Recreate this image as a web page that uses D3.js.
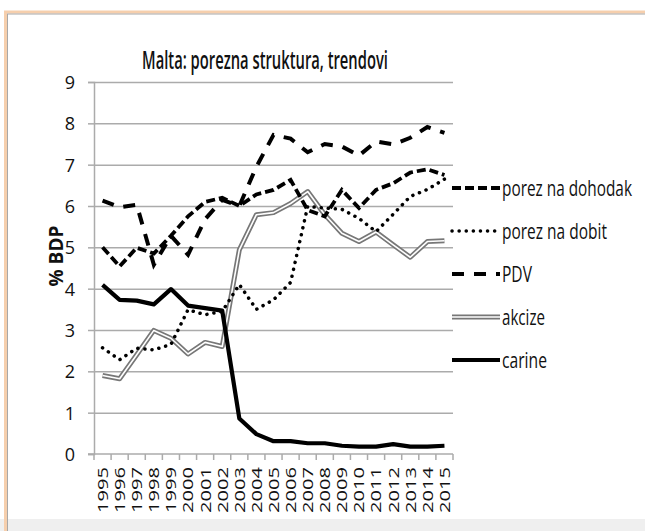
<!DOCTYPE html>
<html>
<head>
<meta charset="utf-8">
<script src="https://cdn.jsdelivr.net/npm/d3@7"></script>
<style>
  body { margin: 0; background: #fff; }
  svg { display: block; }
  text { font-family: "Open Sans", Lato, sans-serif; fill: #111; }
</style>
</head>
<body>
<svg id="chart"></svg>
<script>
// data
const years = ['1995','1996','1997','1998','1999','2000','2001','2002','2003','2004','2005',
  '2006','2007','2008','2009','2010','2011','2012','2013','2014','2015'];
const yTicks = [0, 1, 2, 3, 4, 5, 6, 7, 8, 9];

const dohodak = [5.0, 4.54, 4.99, 4.85, 5.28, 5.75, 6.1, 6.2, 6.0, 6.28, 6.39, 6.63, 5.9, 5.75, 6.39, 5.95, 6.39, 6.55, 6.81, 6.89, 6.75];
const dobit   = [2.57, 2.28, 2.56, 2.52, 2.65, 3.49, 3.37, 3.45, 4.1, 3.5, 3.73, 4.15, 5.99, 5.95, 5.92, 5.7, 5.38, 5.8, 6.23, 6.4, 6.65];
const pdv     = [6.13, 5.97, 6.03, 4.58, 5.28, 4.82, 5.68, 6.15, 6.0, 6.95, 7.72, 7.63, 7.3, 7.5, 7.44, 7.22, 7.56, 7.49, 7.65, 7.91, 7.77];
const akcize  = [1.9, 1.82, 2.4, 2.99, 2.8, 2.42, 2.7, 2.6, 4.94, 5.79, 5.84, 6.06, 6.35, 5.79, 5.34, 5.14, 5.37, 5.06, 4.76, 5.14, 5.16];
const carine  = [4.09, 3.73, 3.71, 3.62, 3.99, 3.59, 3.53, 3.47, 0.86, 0.48, 0.31, 0.31, 0.26, 0.26, 0.2, 0.18, 0.18, 0.24, 0.18, 0.18, 0.2];

const series = [
  { name: 'porez na dohodak', values: dohodak, kind: 'dohodak', textLen: 130 },
  { name: 'porez na dobit', values: dobit, kind: 'dobit', textLen: 105 },
  { name: 'PDV', values: pdv, kind: 'pdv', textLen: 30 },
  { name: 'akcize', values: akcize, kind: 'akcize', textLen: 43 },
  { name: 'carine', values: carine, kind: 'carine', textLen: 45 }
];

const width = 645, height = 531;
const svg = d3.select('#chart').attr('width', width).attr('height', height);

// squeeze a text horizontally (along its own direction) to a given length
function fit(sel, target, pre) {
  sel.each(function() {
    const w = this.getComputedTextLength();
    const s = w > 0 ? target / w : 1;
    d3.select(this).attr('transform', `${pre} scale(${s},1)`);
  });
}

// frame
svg.append('rect').attr('x', 0).attr('y', 519).attr('width', width).attr('height', 12).attr('fill', '#efefef');
svg.append('rect').attr('x', 5.5).attr('y', 12).attr('width', 700).attr('height', 600)
  .attr('fill', 'none').attr('stroke', '#f6cfad').attr('stroke-width', 3);
svg.append('rect').attr('x', 7.5).attr('y', 14).attr('width', 700).attr('height', 600)
  .attr('fill', 'none').attr('stroke', '#a8a8a8').attr('stroke-width', 1);

const x = d3.scaleBand().domain(years).range([94, 453]).padding(0);
const y = d3.scaleLinear().domain([0, 9]).range([454, 82]);
const cx = d => x(d) + x.bandwidth() / 2;

// gridlines
svg.append('g')
  .attr('transform', 'translate(94,0)')
  .call(d3.axisLeft(y).tickValues(yTicks).tickSize(-(453 - 94)).tickFormat(''))
  .call(g => g.select('.domain').remove())
  .call(g => g.selectAll('line').attr('stroke', '#ababab').attr('stroke-width', 1.5))
  .call(g => g.selectAll('.tick').filter(d => d === 0).remove());

// y axis
svg.append('g')
  .attr('transform', 'translate(94,0)')
  .call(d3.axisLeft(y).tickValues(yTicks).tickSize(6).tickPadding(12))
  .call(g => g.select('.domain').attr('stroke', '#ababab').attr('stroke-width', 1.5))
  .call(g => g.selectAll('line').attr('stroke', '#ababab').attr('stroke-width', 1.5))
  .call(g => g.selectAll('text').attr('font-size', 18).attr('fill', '#333')
    .attr('dy', '0.36em').attr('x', -19));

// x axis
const xg = svg.append('g');
xg.append('line').attr('x1', 88).attr('x2', 453).attr('y1', y(0)).attr('y2', y(0))
  .attr('stroke', '#ababab').attr('stroke-width', 1.5);
xg.selectAll('line.tk').data(years.concat(['end']))
  .enter().append('line')
  .attr('class', 'tk')
  .attr('x1', (d, i) => i < years.length ? x(d) : x(years[years.length - 1]) + x.bandwidth())
  .attr('x2', (d, i) => i < years.length ? x(d) : x(years[years.length - 1]) + x.bandwidth())
  .attr('y1', y(0)).attr('y2', y(0) + 6)
  .attr('stroke', '#ababab').attr('stroke-width', 1.5);
xg.selectAll('text').data(years)
  .enter().append('text')
  .attr('text-anchor', 'end')
  .attr('dy', '0.36em')
  .attr('font-size', 15)
  .attr('fill', '#222')
  .text(d => d)
  .each(function(d) { fit(d3.select(this), 46, `translate(${cx(d)},467) rotate(-90)`); });

// y title
fit(svg.append('text')
  .attr('text-anchor', 'middle')
  .attr('font-size', 19)
  .attr('font-weight', 'bold')
  .text('% BDP'), 61, 'translate(63,256) rotate(-90)');

// title
fit(svg.append('text')
  .attr('text-anchor', 'middle')
  .attr('font-size', 25)
  .attr('font-weight', 600)
  .attr('fill', '#000')
  .text('Malta: porezna struktura, trendovi'), 246, 'translate(265,69)');

const line = d3.line().x((d, i) => cx(years[i])).y(d => y(d));

function styleLine(sel, kind) {
  if (kind === 'dohodak') sel.attr('stroke', '#000').attr('stroke-width', 3.8).attr('stroke-dasharray', '9,4');
  if (kind === 'pdv') sel.attr('stroke', '#000').attr('stroke-width', 4).attr('stroke-dasharray', '12,10');
  if (kind === 'dobit') sel.attr('stroke', '#000').attr('stroke-width', 3.5).attr('stroke-dasharray', '0.1,7').attr('stroke-linecap', 'round');
  if (kind === 'carine') sel.attr('stroke', '#000').attr('stroke-width', 4.2).attr('stroke-linejoin', 'round');
  if (kind === 'akcize') sel.attr('stroke', '#777').attr('stroke-width', 5).attr('stroke-linejoin', 'round');
  return sel;
}

const plot = svg.append('g');
const order = ['akcize', 'carine', 'dobit', 'dohodak', 'pdv'];
order.forEach(k => {
  const s = series.find(d => d.kind === k);
  styleLine(plot.append('path').attr('d', line(s.values)).attr('fill', 'none'), k);
  if (k === 'akcize') {
    plot.append('path').attr('d', line(s.values)).attr('fill', 'none')
      .attr('stroke', '#fff').attr('stroke-width', 1.6).attr('stroke-linejoin', 'round');
  }
});

// legend
const legY = d3.scalePoint().domain(series.map(d => d.name)).range([188, 360]);
const leg = svg.append('g');
series.forEach(s => {
  const ly = legY(s.name);
  styleLine(leg.append('line').attr('x1', 452).attr('x2', 500).attr('y1', ly).attr('y2', ly), s.kind);
  if (s.kind === 'akcize') {
    leg.append('line').attr('x1', 452).attr('x2', 500).attr('y1', ly).attr('y2', ly)
      .attr('stroke', '#fff').attr('stroke-width', 1.6);
  }
  fit(leg.append('text')
    .attr('font-size', 22)
    .attr('fill', '#000')
    .text(s.name), s.textLen, `translate(502,${ly + 8})`);
});
</script>
</body>
</html>
